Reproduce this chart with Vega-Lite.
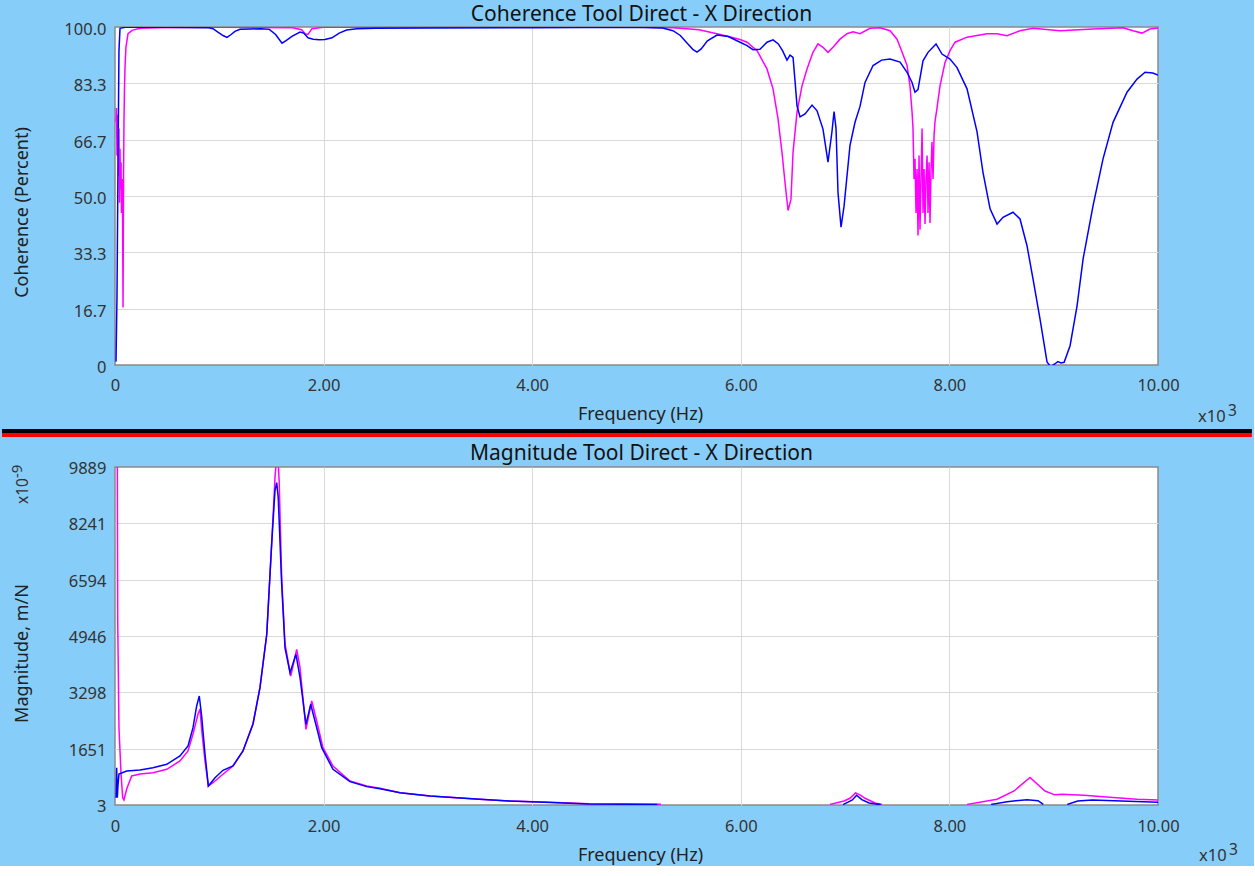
{
  "$schema": "https://vega.github.io/schema/vega-lite/v6.json",
  "background": "#87CDF9",
  "padding": {"left": 0, "top": 3, "right": 0, "bottom": 0},
  "config": {
    "font": "Noto Sans",
    "view": {"fill": "white", "stroke": "#8a8a8a", "strokeWidth": 1.5},
    "axis": {"grid": true, "gridColor": "#d9d9d9", "gridWidth": 1, "ticks": false, "tickSize": 0, "domain": false,
      "labelFontSize": 16.5, "labelColor": "#333333", "titleFontSize": 18, "titleFontWeight": "normal", "titleColor": "#222222",
      "labelFlush": false, "labelOverlap": false},
    "title": {"fontSize": 21, "fontWeight": "normal", "color": "#111111", "anchor": "middle", "frame": "group", "baseline": "alphabetic", "offset": -3.7, "dx": 5}
  },
  "datasets": {
    "cohBlue": [
      {"f":9.6,"v":1},{"f":19,"v":20},{"f":29,"v":60},{"f":38,"v":93},{"f":48,"v":99.6},{"f":100,"v":99.9},{"f":500,"v":99.9},{"f":900,"v":99.8},{"f":940,"v":99.5},{"f":990,"v":98.4},{"f":1040,"v":97.4},{"f":1074,"v":96.9},{"f":1110,"v":97.7},{"f":1150,"v":98.7},{"f":1199,"v":99.3},{"f":1300,"v":99.4},{"f":1400,"v":99.5},{"f":1480,"v":99.3},{"f":1540,"v":97.8},{"f":1601,"v":95.2},{"f":1640,"v":96.0},{"f":1700,"v":97.3},{"f":1774,"v":98.5},{"f":1810,"v":98.2},{"f":1850,"v":96.8},{"f":1900,"v":96.4},{"f":1960,"v":96.2},{"f":2013,"v":96.3},{"f":2080,"v":96.8},{"f":2150,"v":98.2},{"f":2220,"v":99.1},{"f":2320,"v":99.5},{"f":2500,"v":99.6},{"f":3000,"v":99.7},{"f":4000,"v":99.8},{"f":5000,"v":99.9},{"f":5250,"v":99.7},{"f":5350,"v":98.9},{"f":5420,"v":97.5},{"f":5480,"v":95.4},{"f":5540,"v":93.4},{"f":5580,"v":92.6},{"f":5620,"v":93.5},{"f":5680,"v":95.9},{"f":5772,"v":97.6},{"f":5880,"v":97.2},{"f":5993,"v":95.5},{"f":6060,"v":94.5},{"f":6117,"v":93.3},{"f":6184,"v":93.4},{"f":6251,"v":95.5},{"f":6309,"v":96.2},{"f":6360,"v":95.0},{"f":6400,"v":93.0},{"f":6443,"v":90.2},{"f":6472,"v":91.7},{"f":6501,"v":91.0},{"f":6520,"v":84},{"f":6539,"v":76.7},{"f":6568,"v":73.4},{"f":6616,"v":74.3},{"f":6683,"v":76.9},{"f":6731,"v":75.2},{"f":6788,"v":69.8},{"f":6836,"v":60.0},{"f":6874,"v":69.0},{"f":6894,"v":75.0},{"f":6913,"v":70.0},{"f":6932,"v":51.0},{"f":6961,"v":40.8},{"f":6990,"v":47.0},{"f":7047,"v":65.0},{"f":7095,"v":71.8},{"f":7143,"v":76.5},{"f":7191,"v":83.6},{"f":7268,"v":88.6},{"f":7350,"v":90.2},{"f":7431,"v":90.5},{"f":7527,"v":89.6},{"f":7594,"v":86.6},{"f":7642,"v":83.6},{"f":7670,"v":80.7},{"f":7699,"v":81.5},{"f":7747,"v":90.0},{"f":7795,"v":92.5},{"f":7872,"v":95.0},{"f":7929,"v":92.0},{"f":8006,"v":90.5},{"f":8073,"v":88.0},{"f":8169,"v":81.7},{"f":8265,"v":69.0},{"f":8322,"v":57.0},{"f":8390,"v":46.2},{"f":8457,"v":41.7},{"f":8514,"v":43.7},{"f":8610,"v":45.2},{"f":8677,"v":43.2},{"f":8744,"v":35.3},{"f":8802,"v":25.4},{"f":8869,"v":13.6},{"f":8936,"v":0.9},{"f":8970,"v":-0.5},{"f":9010,"v":0.3},{"f":9040,"v":1.0},{"f":9070,"v":0.6},{"f":9100,"v":0.8},{"f":9157,"v":5.7},{"f":9224,"v":17.5},{"f":9282,"v":31.4},{"f":9377,"v":47.1},{"f":9473,"v":61.0},{"f":9569,"v":71.8},{"f":9703,"v":80.7},{"f":9799,"v":84.6},{"f":9876,"v":86.6},{"f":9950,"v":86.4},{"f":10000,"v":85.8}
    ],
    "cohPink": [
      {"f":9.6,"v":72},{"f":14,"v":76},{"f":19,"v":62},{"f":24,"v":74},{"f":29,"v":67},{"f":34,"v":56},{"f":38,"v":70},{"f":43,"v":48},{"f":48,"v":64},{"f":53,"v":52},{"f":58,"v":60},{"f":62,"v":45},{"f":67,"v":55},{"f":72,"v":50},{"f":77,"v":17},{"f":82,"v":56},{"f":86,"v":72},{"f":91,"v":82},{"f":96,"v":88},{"f":105,"v":94},{"f":125,"v":98},{"f":163,"v":99},{"f":240,"v":99.6},{"f":431,"v":99.8},{"f":1000,"v":99.9},{"f":1700,"v":99.8},{"f":1790,"v":99.2},{"f":1822,"v":98.0},{"f":1850,"v":97.8},{"f":1889,"v":99.5},{"f":2000,"v":99.9},{"f":5000,"v":99.9},{"f":5350,"v":99.8},{"f":5600,"v":99.2},{"f":5772,"v":98.0},{"f":5884,"v":97.2},{"f":5993,"v":96.3},{"f":6060,"v":95.5},{"f":6156,"v":93.0},{"f":6251,"v":87.6},{"f":6309,"v":81.7},{"f":6357,"v":72.8},{"f":6395,"v":62.9},{"f":6424,"v":54.0},{"f":6453,"v":45.7},{"f":6481,"v":49.0},{"f":6501,"v":63.0},{"f":6539,"v":74.8},{"f":6587,"v":82.6},{"f":6635,"v":87.6},{"f":6692,"v":92.5},{"f":6740,"v":95.0},{"f":6788,"v":94.0},{"f":6836,"v":92.5},{"f":6884,"v":94.0},{"f":6951,"v":96.4},{"f":7018,"v":98.0},{"f":7076,"v":98.6},{"f":7143,"v":98.0},{"f":7239,"v":99.6},{"f":7335,"v":99.8},{"f":7431,"v":98.9},{"f":7498,"v":96.4},{"f":7546,"v":92.6},{"f":7594,"v":88.6},{"f":7622,"v":82.6},{"f":7642,"v":74.8},{"f":7651,"v":70},{"f":7661,"v":55},{"f":7670,"v":61},{"f":7680,"v":45},{"f":7690,"v":58},{"f":7699,"v":38.3},{"f":7709,"v":62},{"f":7718,"v":40},{"f":7728,"v":55},{"f":7738,"v":70},{"f":7747,"v":45},{"f":7757,"v":58},{"f":7766,"v":41.7},{"f":7776,"v":55},{"f":7786,"v":62},{"f":7795,"v":45},{"f":7805,"v":60},{"f":7814,"v":42},{"f":7824,"v":58},{"f":7833,"v":66},{"f":7843,"v":55},{"f":7853,"v":68},{"f":7862,"v":72},{"f":7881,"v":76},{"f":7910,"v":82.6},{"f":7958,"v":89.5},{"f":8006,"v":93.0},{"f":8054,"v":95.5},{"f":8169,"v":97.0},{"f":8361,"v":98.0},{"f":8457,"v":98.0},{"f":8553,"v":97.4},{"f":8677,"v":98.9},{"f":8802,"v":99.6},{"f":9061,"v":98.9},{"f":9377,"v":99.4},{"f":9665,"v":99.8},{"f":9760,"v":98.9},{"f":9847,"v":98.2},{"f":9923,"v":99.4},{"f":10000,"v":99.7}
    ],
    "magPink": [
      {"g":1,"f":12,"v":10500},{"g":1,"f":22,"v":10500},{"g":1,"f":26,"v":5385},{"g":1,"f":38,"v":2264},{"g":1,"f":58,"v":900},{"g":1,"f":74,"v":216},{"g":1,"f":86,"v":150},{"g":1,"f":112,"v":471},{"g":1,"f":160,"v":851},{"g":1,"f":240,"v":910},{"g":1,"f":364,"v":948},{"g":1,"f":496,"v":1047},{"g":1,"f":623,"v":1290},{"g":1,"f":700,"v":1583},{"g":1,"f":748,"v":2080},{"g":1,"f":783,"v":2500},{"g":1,"f":796,"v":2665},{"g":1,"f":815,"v":2811},{"g":1,"f":831,"v":2200},{"g":1,"f":863,"v":1290},{"g":1,"f":895,"v":559},{"g":1,"f":940,"v":655},{"g":1,"f":1035,"v":901},{"g":1,"f":1131,"v":1144},{"g":1,"f":1227,"v":1583},{"g":1,"f":1323,"v":2372},{"g":1,"f":1390,"v":3434},{"g":1,"f":1455,"v":4996},{"g":1,"f":1502,"v":7637},{"g":1,"f":1534,"v":9577},{"g":1,"f":1550,"v":10200},{"g":1,"f":1562,"v":10200},{"g":1,"f":1574,"v":9480},{"g":1,"f":1598,"v":6652},{"g":1,"f":1630,"v":4712},{"g":1,"f":1685,"v":3776},{"g":1,"f":1742,"v":4557},{"g":1,"f":1774,"v":4019},{"g":1,"f":1831,"v":2217},{"g":1,"f":1886,"v":3045},{"g":1,"f":1934,"v":2460},{"g":1,"f":1994,"v":1679},{"g":1,"f":2090,"v":1144},{"g":1,"f":2253,"v":705},{"g":1,"f":2413,"v":559},{"g":1,"f":2541,"v":491},{"g":1,"f":2733,"v":363},{"g":1,"f":3020,"v":266},{"g":1,"f":3495,"v":170},{"g":1,"f":3778,"v":120},{"g":1,"f":4113,"v":90},{"g":1,"f":4545,"v":41},{"g":1,"f":5235,"v":23},
      {"g":2,"f":6855,"v":20},{"g":2,"f":6990,"v":120},{"g":2,"f":7047,"v":200},{"g":2,"f":7100,"v":354},{"g":2,"f":7143,"v":300},{"g":2,"f":7191,"v":200},{"g":2,"f":7287,"v":60},{"g":2,"f":7354,"v":20},
      {"g":3,"f":8169,"v":20},{"g":3,"f":8457,"v":170},{"g":3,"f":8620,"v":413},{"g":3,"f":8773,"v":810},{"g":3,"f":8917,"v":413},{"g":3,"f":9010,"v":300},{"g":3,"f":9080,"v":316},{"g":3,"f":9290,"v":290},{"g":3,"f":9569,"v":220},{"g":3,"f":9800,"v":170},{"g":3,"f":10000,"v":150}
    ],
    "magBlue": [
      {"g":1,"f":10,"v":216},{"g":1,"f":16,"v":1094},{"g":1,"f":22,"v":216},{"g":1,"f":29,"v":600},{"g":1,"f":38,"v":910},{"g":1,"f":112,"v":997},{"g":1,"f":240,"v":1027},{"g":1,"f":364,"v":1094},{"g":1,"f":496,"v":1194},{"g":1,"f":623,"v":1436},{"g":1,"f":700,"v":1729},{"g":1,"f":748,"v":2264},{"g":1,"f":783,"v":2899},{"g":1,"f":808,"v":3191},{"g":1,"f":831,"v":2600},{"g":1,"f":863,"v":1495},{"g":1,"f":895,"v":559},{"g":1,"f":959,"v":802},{"g":1,"f":1035,"v":1018},{"g":1,"f":1131,"v":1144},{"g":1,"f":1227,"v":1583},{"g":1,"f":1323,"v":2372},{"g":1,"f":1390,"v":3434},{"g":1,"f":1455,"v":4996},{"g":1,"f":1502,"v":7637},{"g":1,"f":1534,"v":9200},{"g":1,"f":1550,"v":9430},{"g":1,"f":1565,"v":9000},{"g":1,"f":1598,"v":6467},{"g":1,"f":1630,"v":4600},{"g":1,"f":1678,"v":3873},{"g":1,"f":1735,"v":4411},{"g":1,"f":1774,"v":3727},{"g":1,"f":1831,"v":2363},{"g":1,"f":1876,"v":2948},{"g":1,"f":1934,"v":2264},{"g":1,"f":1982,"v":1679},{"g":1,"f":2090,"v":1047},{"g":1,"f":2253,"v":685},{"g":1,"f":2413,"v":540},{"g":1,"f":2541,"v":480},{"g":1,"f":2733,"v":363},{"g":1,"f":3020,"v":266},{"g":1,"f":3495,"v":170},{"g":1,"f":3778,"v":120},{"g":1,"f":4113,"v":80},{"g":1,"f":4545,"v":35},{"g":1,"f":5200,"v":20},
      {"g":2,"f":6980,"v":15},{"g":2,"f":7070,"v":150},{"g":2,"f":7110,"v":290},{"g":2,"f":7160,"v":160},{"g":2,"f":7230,"v":60},{"g":2,"f":7340,"v":15},
      {"g":3,"f":8400,"v":20},{"g":3,"f":8553,"v":100},{"g":3,"f":8744,"v":158},{"g":3,"f":8850,"v":130},{"g":3,"f":8900,"v":20},
      {"g":4,"f":9130,"v":20},{"g":4,"f":9230,"v":120},{"g":4,"f":9370,"v":149},{"g":4,"f":9650,"v":120},{"g":4,"f":10000,"v":80}
    ]
  },
  "spacing": 2,
  "vconcat": [
    {
      "width": 1043, "height": 338,
      "title": {"text": "Coherence Tool Direct - X Direction"},
      "layer": [
        {
          "data": {"name": "cohPink"},
          "mark": {"type": "line", "color": "#ff00ff", "strokeWidth": 1.5, "clip": true},
          "encoding": {
            "x": {"field": "f", "type": "quantitative", "scale": {"domain": [0, 10000], "nice": false, "zero": false},
              "axis": {"values": [0, 2000, 4000, 6000, 8000, 10000], "labelExpr": "datum.value == 0 ? '0' : format(datum.value / 1000, '.2f')",
                "labelPadding": 12, "title": "Frequency (Hz)", "titleX": 525, "titleY": 54, "titleBaseline": "alphabetic",
                "gridColor": {"condition": {"test": "datum.value == 0 || datum.value == 10000", "value": "transparent"}, "value": "#d9d9d9"}}},
            "y": {"field": "v", "type": "quantitative", "scale": {"domain": [0, 100], "nice": false},
              "axis": {"values": [0, 16.6667, 33.3333, 50, 66.6667, 83.3333, 100], "labelExpr": "datum.value == 0 ? '0' : format(datum.value, '.1f')",
                "labelPadding": 9, "labelOffset": 2.6, "title": "Coherence (Percent)", "titleX": -88, "titleY": 185, "titleBaseline": "alphabetic",
                "gridColor": {"condition": {"test": "datum.value == 0 || datum.value == 100", "value": "transparent"}, "value": "#d9d9d9"}}}
          }
        },
        {
          "data": {"name": "cohBlue"},
          "mark": {"type": "line", "color": "#0000ff", "strokeWidth": 1.5, "clip": true},
          "encoding": {
            "x": {"field": "f", "type": "quantitative"},
            "y": {"field": "v", "type": "quantitative"}
          }
        },
        {
          "data": {"values": [{}]},
          "mark": {"type": "text", "text": "x10", "align": "left", "baseline": "alphabetic", "fontSize": 16.5, "color": "#333333", "dx": 40, "dy": 57, "clip": false},
          "encoding": {"x": {"datum": 10000, "type": "quantitative"}, "y": {"datum": 0, "type": "quantitative"}}
        },
        {
          "data": {"values": [{}]},
          "mark": {"type": "text", "text": "3", "align": "left", "baseline": "alphabetic", "fontSize": 15.5, "color": "#333333", "dx": 70, "dy": 51, "clip": false},
          "encoding": {"x": {"datum": 10000, "type": "quantitative"}, "y": {"datum": 0, "type": "quantitative"}}
        }
      ]
    },
    {
      "spacing": 5,
      "vconcat": [
        {
          "width": 1043, "height": 8,
          "view": {"stroke": null, "fill": null},
          "data": {"values": [{}]},
          "layer": [
            {
              "mark": {"type": "rule", "color": "#000000", "strokeWidth": 4, "clip": false},
              "encoding": {
                "x": {"datum": -1083, "type": "quantitative", "scale": {"domain": [0, 10000], "nice": false, "zero": false}, "axis": null},
                "x2": {"datum": 10900},
                "y": {"datum": 6, "type": "quantitative", "scale": {"domain": [0, 8], "nice": false}, "axis": null}
              }
            },
            {
              "mark": {"type": "rule", "color": "#ff0000", "strokeWidth": 4, "clip": false},
              "encoding": {
                "x": {"datum": -1083, "type": "quantitative"},
                "x2": {"datum": 10900},
                "y": {"datum": 2, "type": "quantitative"}
              }
            }
          ]
        },
        {
          "width": 1043, "height": 338,
          "title": {"text": "Magnitude Tool Direct - X Direction"},
          "layer": [
            {
              "data": {"name": "magPink"},
              "mark": {"type": "line", "color": "#ff00ff", "strokeWidth": 1.5, "clip": true},
              "encoding": {
                "x": {"field": "f", "type": "quantitative", "scale": {"domain": [0, 10000], "nice": false, "zero": false},
                  "axis": {"values": [0, 2000, 4000, 6000, 8000, 10000], "labelExpr": "datum.value == 0 ? '0' : format(datum.value / 1000, '.2f')",
                    "labelPadding": 13, "title": "Frequency (Hz)", "titleX": 525, "titleY": 55, "titleBaseline": "alphabetic",
                    "gridColor": {"condition": {"test": "datum.value == 0 || datum.value == 10000", "value": "transparent"}, "value": "#d9d9d9"}}},
                "y": {"field": "v", "type": "quantitative", "scale": {"domain": [3, 9889], "nice": false, "zero": false},
                  "axis": {"values": [3, 1650.6667, 3298.3333, 4946, 6593.6667, 8241.3333, 9889], "labelExpr": "format(datum.value, '.0f')",
                    "labelPadding": 9, "labelOffset": 1.5, "title": "Magnitude, m/N", "titleX": -88, "titleY": 186, "titleBaseline": "alphabetic",
                    "gridColor": {"condition": {"test": "datum.value <= 3 || datum.value >= 9889", "value": "transparent"}, "value": "#d9d9d9"}}},
                "detail": {"field": "g", "type": "nominal"}
              }
            },
            {
              "data": {"name": "magBlue"},
              "mark": {"type": "line", "color": "#0000ff", "strokeWidth": 1.5, "clip": true},
              "encoding": {
                "x": {"field": "f", "type": "quantitative"},
                "y": {"field": "v", "type": "quantitative"},
                "detail": {"field": "g", "type": "nominal"}
              }
            },
            {
              "data": {"values": [{}]},
              "mark": {"type": "text", "text": "x10", "align": "left", "baseline": "alphabetic", "fontSize": 16.5, "color": "#333333", "dx": 41, "dy": 56, "clip": false},
              "encoding": {"x": {"datum": 10000, "type": "quantitative"}, "y": {"datum": 3, "type": "quantitative"}}
            },
            {
              "data": {"values": [{}]},
              "mark": {"type": "text", "text": "3", "align": "left", "baseline": "alphabetic", "fontSize": 15.5, "color": "#333333", "dx": 71, "dy": 50, "clip": false},
              "encoding": {"x": {"datum": 10000, "type": "quantitative"}, "y": {"datum": 3, "type": "quantitative"}}
            },
            {
              "data": {"values": [{}]},
              "mark": {"type": "text", "text": "x10", "align": "left", "baseline": "alphabetic", "angle": 270, "fontSize": 15.5, "color": "#333333", "dx": -37, "dy": -87.5, "clip": false},
              "encoding": {"x": {"datum": 0, "type": "quantitative"}, "y": {"datum": 9889, "type": "quantitative"}}
            },
            {
              "data": {"values": [{}]},
              "mark": {"type": "text", "text": "-9", "align": "left", "baseline": "alphabetic", "angle": 270, "fontSize": 15, "color": "#333333", "dx": -11, "dy": -93, "clip": false},
              "encoding": {"x": {"datum": 0, "type": "quantitative"}, "y": {"datum": 9889, "type": "quantitative"}}
            }
          ]
        }
      ]
    }
  ]
}
